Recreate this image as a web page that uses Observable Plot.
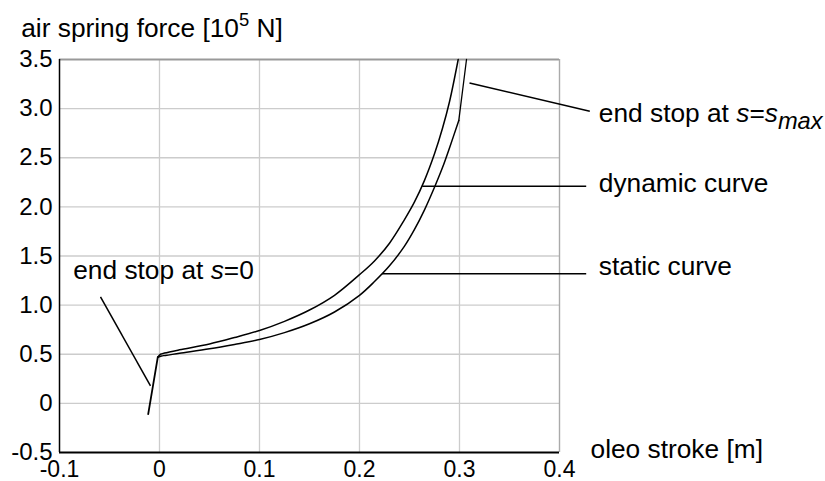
<!DOCTYPE html>
<html><head><meta charset="utf-8">
<script src="https://cdn.jsdelivr.net/npm/d3@7"></script>
<script src="https://cdn.jsdelivr.net/npm/@observablehq/plot@0.6"></script>
<style>
body{margin:0;background:#fff}
svg{font-family:"Liberation Sans",Arial,Helvetica,sans-serif}
</style>
</head><body><div id="chart"></div>
<script>
// ---- data (oleo stroke [m], air spring force [1e5 N]) ----
const endStopZeroStroke = [-0.0113, -0.0017];
const endStopZeroForce  = [-0.11, 0.47];

const dynamicStroke = [-0.0017, 0.001, 0.005, 0.02, 0.05, 0.075, 0.1, 0.125, 0.15, 0.175, 0.2, 0.215, 0.23, 0.245, 0.255, 0.265, 0.275, 0.283, 0.29, 0.2987];
const dynamicForce  = [0.47, 0.50, 0.512, 0.545, 0.605, 0.67, 0.742, 0.835, 0.95, 1.10, 1.31, 1.45, 1.63, 1.87, 2.05, 2.27, 2.54, 2.80, 3.07, 3.5];

const staticStroke = [-0.0017, 0.002, 0.006, 0.02, 0.05, 0.075, 0.1, 0.125, 0.15, 0.175, 0.2, 0.215, 0.23, 0.245, 0.255, 0.265, 0.275, 0.283, 0.29, 0.2993];
const staticForce  = [0.47, 0.483, 0.488, 0.51, 0.555, 0.60, 0.65, 0.72, 0.81, 0.93, 1.10, 1.24, 1.40, 1.60, 1.77, 1.97, 2.20, 2.40, 2.60, 2.88];

const endStopMaxStroke = [0.2993, 0.307];
const endStopMaxForce  = [2.88, 3.5];

const xTicks = [-0.1, 0, 0.1, 0.2, 0.3, 0.4];
const yTicks = [-0.5, 0, 0.5, 1.0, 1.5, 2.0, 2.5, 3.0, 3.5];

// annotations: leader start/end, text position
const annoLabels = ["endMax", "dynamic", "static", "endZero"];
const annoX1 = [0.310, 0.2627, 0.2225, -0.059];
const annoY1 = [3.26, 2.21, 1.32, 1.083];
const annoX2 = [0.4303, 0.4267, 0.4267, -0.009];
const annoY2 = [2.974, 2.21, 1.32, 0.178];
const annoTx = [0.4393, 0.4393, 0.4393, -0.0863];
const annoTy = [2.862, 2.150, 1.304, 1.27];
const annoText = ["end stop at s=smax", "dynamic curve", "static curve", "end stop at s=0"];

const toPts = (xs, ys) => xs.map((x, i) => ({x, y: ys[i]}));
const fmt = d => d === 0 ? "0" : d.toFixed(1);

const annos = annoLabels.map((k, i) => ({k, x1: annoX1[i], y1: annoY1[i], x2: annoX2[i], y2: annoY2[i], tx: annoTx[i], ty: annoTy[i], text: annoText[i]}));

const gridCol = "#cccccc";
const fs = 26.3;
const chart = Plot.plot({
  width: 825, height: 481,
  marginLeft: 59, marginRight: 266, marginTop: 59, marginBottom: 29,
  x: {domain: [-0.1, 0.4]},
  y: {domain: [-0.5, 3.5]},
  style: {fontFamily: '"Liberation Sans", Arial, sans-serif', background: "#fff", overflow: "visible"},
  marks: [
    Plot.gridX(xTicks.slice(1, -1), {stroke: gridCol, strokeOpacity: 1, strokeWidth: 1.3}),
    Plot.gridY(yTicks.slice(1, -1), {stroke: gridCol, strokeOpacity: 1, strokeWidth: 1.3}),
    Plot.ruleY([yTicks[yTicks.length - 1]], {stroke: "#999", strokeWidth: 1.8}),
    Plot.ruleX([xTicks[xTicks.length - 1]], {stroke: "#aaa", strokeWidth: 1.4}),
    Plot.ruleX([xTicks[0]], {stroke: "#000", strokeWidth: 1.5}),
    Plot.ruleY([yTicks[0]], {stroke: "#000", strokeWidth: 2}),
    Plot.axisY(yTicks, {tickSize: 0, tickPadding: 7, fontSize: 24, tickFormat: fmt, label: null, fill: "#000"}),
    Plot.axisX(xTicks, {tickSize: 0, tickPadding: 8, fontSize: 23, tickFormat: fmt, label: null, fill: "#000"}),
    Plot.line(toPts(dynamicStroke, dynamicForce), {x: "x", y: "y", curve: "catmull-rom", stroke: "#000", strokeWidth: 1.5}),
    Plot.line(toPts(staticStroke, staticForce), {x: "x", y: "y", curve: "catmull-rom", stroke: "#000", strokeWidth: 1.5}),
    Plot.line(toPts(endStopZeroStroke, endStopZeroForce), {x: "x", y: "y", stroke: "#000", strokeWidth: 1.8}),
    Plot.line(toPts(endStopMaxStroke, endStopMaxForce), {x: "x", y: "y", stroke: "#000", strokeWidth: 1.3}),
    Plot.link(annos, {x1: "x1", y1: "y1", x2: "x2", y2: "y2", stroke: "#000", strokeWidth: 1.5}),
    Plot.text(annos, {x: "tx", y: "ty", text: "text", textAnchor: "start", lineAnchor: "bottom", fontSize: fs, fill: "#000", className: "anno"}),
    Plot.text(["air spring force [10^5 N]"], {x: -0.1383, y: 3.733, text: d => d, textAnchor: "start", lineAnchor: "bottom", fontSize: fs, fill: "#000", className: "ylab"}),
    Plot.text(["oleo stroke [m]"], {x: 0.431, y: -0.559, text: d => d, textAnchor: "start", lineAnchor: "bottom", fontSize: fs, fill: "#000"})
  ]
});
document.getElementById("chart").appendChild(chart);

// rich text (italic s, subscript, superscript)
const rich = {
  "end stop at s=smax": 'end stop at <tspan font-style="italic">s</tspan>=<tspan font-style="italic">s</tspan><tspan font-style="italic" font-size="0.9em" dy="0.27em">max</tspan>',
  "end stop at s=0": 'end stop at <tspan font-style="italic">s</tspan>=0',
  "air spring force [10^5 N]": 'air spring force [10<tspan font-size="0.7em" dy="-0.55em">5</tspan><tspan dy="0.385em"> N]</tspan>'
};
d3.select(chart).selectAll(".anno text, .ylab text").each(function() {
  const t = this.textContent;
  if (rich[t]) this.innerHTML = rich[t];
});
</script>
</body></html>
